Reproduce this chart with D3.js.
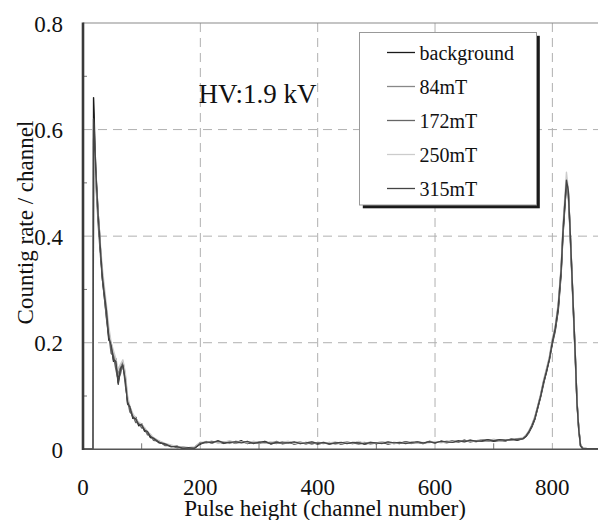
<!DOCTYPE html>
<html><head><meta charset="utf-8">
<script src="https://cdn.jsdelivr.net/npm/d3@7/dist/d3.min.js"></script>
<style>
html,body{margin:0;padding:0;background:#fff;}
svg{display:block;}
svg text{font-family:"Liberation Serif","Times New Roman",serif;}
</style></head>
<body>
<svg id="chart" width="598" height="520"></svg>
<script>
// ---------------- data ----------------
const seriesNames = ["background", "84mT", "172mT", "250mT", "315mT"];
const seriesColors = ["#1a1a1a", "#888888", "#666666", "#cccccc", "#444444"];

const xTicks = [0, 200, 400, 600, 800];
const xMinorTicks = [100, 300, 500, 700];
const yTicks = [0, 0.2, 0.4, 0.6, 0.8];
const yMinorTicks = [0.1, 0.3, 0.5, 0.7];
const yTickLabels = ["0", "0.2", "0.4", "0.6", "0.8"];

// channel numbers (three regions: low-energy tail, flat part, photo peak)
const channels = [
  0,10,17,18,19,20,21,22,24,26,28,30,33,36,40,44,48,52,56,60,64,68,72,76,80,85,90,95,100,105,110,115,120,130,140,150,160,170,180,190,
  200,210,220,230,240,250,260,270,280,290,300,310,320,330,340,350,360,370,380,390,400,410,420,430,440,450,460,470,480,490,500,510,520,530,540,550,560,570,580,590,600,610,620,630,640,650,660,670,680,690,700,710,720,730,740,
  750,755,760,765,770,775,780,785,790,795,800,805,810,815,818,821,824,827,830,833,836,839,842,845,848,852,860,870,880
];

const background = [
  0,0,0,0.66,0.63,0.58,0.55,0.52,0.48,0.44,0.41,0.37,0.32,0.29,0.25,0.205,0.2,0.165,0.17,0.125,0.155,0.155,0.135,0.085,0.08,0.058,0.06,0.044,0.048,0.034,0.032,0.022,0.021,0.012,0.01,0.005,0.006,0.002,0.003,0.002,
  0.01,0.014,0.012,0.015,0.011,0.014,0.012,0.016,0.011,0.013,0.012,0.015,0.01,0.013,0.011,0.014,0.01,0.012,0.011,0.013,0.01,0.012,0.011,0.013,0.01,0.012,0.011,0.014,0.01,0.012,0.011,0.013,0.01,0.012,0.011,0.014,0.012,0.013,0.011,0.014,0.012,0.015,0.013,0.016,0.014,0.017,0.014,0.016,0.015,0.018,0.015,0.017,0.016,0.019,0.017,
  0.02,0.024,0.032,0.042,0.056,0.078,0.1,0.125,0.145,0.17,0.2,0.225,0.26,0.33,0.4,0.45,0.5,0.49,0.42,0.34,0.26,0.18,0.09,0.04,0.008,0.002,0.001,0.001,0.001
];
const mT84 = [
  0,0,0,0.6,0.6,0.57,0.54,0.51,0.47,0.43,0.4,0.37,0.33,0.3,0.26,0.22,0.195,0.18,0.165,0.14,0.155,0.165,0.14,0.095,0.078,0.065,0.056,0.05,0.046,0.039,0.032,0.027,0.021,0.015,0.01,0.007,0.005,0.004,0.003,0.004,
  0.012,0.013,0.015,0.012,0.014,0.011,0.015,0.013,0.012,0.014,0.011,0.013,0.012,0.015,0.01,0.013,0.012,0.014,0.01,0.013,0.012,0.011,0.013,0.01,0.012,0.014,0.011,0.012,0.013,0.01,0.012,0.014,0.011,0.013,0.012,0.013,0.011,0.014,0.012,0.013,0.014,0.013,0.015,0.014,0.016,0.015,0.017,0.014,0.018,0.016,0.017,0.016,0.018,0.017,0.019,
  0.021,0.026,0.034,0.045,0.06,0.08,0.102,0.128,0.15,0.172,0.205,0.23,0.27,0.34,0.41,0.46,0.5,0.48,0.41,0.33,0.25,0.17,0.085,0.035,0.006,0.001,0.001,0.001,0.001
];
const mT172 = [
  0,0,0,0.58,0.6,0.56,0.53,0.5,0.46,0.42,0.39,0.36,0.32,0.29,0.245,0.215,0.18,0.175,0.15,0.13,0.142,0.162,0.122,0.092,0.07,0.064,0.05,0.05,0.04,0.04,0.027,0.027,0.017,0.015,0.007,0.007,0.003,0.004,0.002,0.003,
  0.013,0.012,0.014,0.013,0.012,0.015,0.011,0.014,0.013,0.012,0.014,0.012,0.013,0.011,0.014,0.012,0.013,0.011,0.013,0.01,0.013,0.012,0.01,0.012,0.011,0.013,0.012,0.01,0.012,0.013,0.011,0.012,0.013,0.011,0.012,0.014,0.012,0.013,0.011,0.015,0.013,0.014,0.012,0.015,0.014,0.016,0.015,0.016,0.017,0.015,0.018,0.017,0.016,0.019,0.018,
  0.02,0.025,0.031,0.043,0.057,0.077,0.098,0.122,0.148,0.168,0.198,0.222,0.265,0.335,0.405,0.455,0.495,0.485,0.415,0.335,0.255,0.175,0.088,0.038,0.007,0.001,0.001,0.001,0.001
];
const mT250 = [
  0,0,0,0.56,0.57,0.55,0.52,0.5,0.47,0.44,0.41,0.38,0.34,0.31,0.27,0.23,0.2,0.185,0.17,0.15,0.16,0.168,0.145,0.1,0.08,0.067,0.058,0.051,0.047,0.04,0.033,0.028,0.022,0.016,0.011,0.008,0.005,0.004,0.003,0.004,
  0.012,0.015,0.012,0.014,0.013,0.016,0.012,0.014,0.012,0.015,0.013,0.012,0.014,0.012,0.013,0.015,0.011,0.013,0.012,0.014,0.011,0.013,0.012,0.014,0.011,0.013,0.012,0.015,0.011,0.013,0.012,0.014,0.012,0.011,0.013,0.012,0.014,0.012,0.013,0.012,0.015,0.012,0.014,0.015,0.016,0.014,0.016,0.015,0.017,0.016,0.019,0.016,0.018,0.017,0.02,
  0.022,0.027,0.035,0.046,0.061,0.082,0.104,0.13,0.152,0.175,0.208,0.233,0.275,0.345,0.42,0.47,0.52,0.49,0.42,0.34,0.26,0.18,0.09,0.04,0.008,0.002,0.001,0.001,0.001
];
const mT315 = [
  0,0,0,0.62,0.61,0.57,0.545,0.515,0.475,0.435,0.405,0.37,0.325,0.295,0.26,0.21,0.195,0.168,0.165,0.122,0.152,0.158,0.13,0.088,0.079,0.06,0.057,0.046,0.046,0.036,0.033,0.024,0.021,0.013,0.01,0.005,0.005,0.002,0.003,0.002,
  0.011,0.014,0.012,0.016,0.012,0.013,0.014,0.012,0.015,0.011,0.013,0.014,0.011,0.013,0.012,0.012,0.014,0.011,0.012,0.014,0.011,0.013,0.01,0.012,0.013,0.011,0.013,0.012,0.01,0.013,0.012,0.011,0.014,0.012,0.013,0.011,0.013,0.014,0.012,0.014,0.012,0.015,0.014,0.013,0.016,0.014,0.017,0.015,0.016,0.018,0.016,0.018,0.017,0.018,0.019,
  0.02,0.025,0.033,0.044,0.058,0.079,0.1,0.126,0.147,0.17,0.202,0.228,0.268,0.338,0.408,0.458,0.505,0.487,0.418,0.338,0.258,0.178,0.087,0.037,0.007,0.001,0.001,0.001,0.001
];
const seriesValues = [background, mT84, mT172, mT250, mT315];

const annotation = "HV:1.9 kV";
const xTitle = "Pulse height (channel number)";
const yTitle = "Countig rate / channel";

// ---------------- drawing ----------------
const svg = d3.select("#chart");
const L = 83, T = 23, B = 449.3, R = 599.3;
const x = d3.scaleLinear().domain([0, 880]).range([L, R]);
const y = d3.scaleLinear().domain([0, 0.8]).range([B, T]);

// grid
const grid = svg.append("g").attr("stroke", "#b0b0b0").attr("stroke-width", 1).attr("stroke-dasharray", "9,6");
grid.selectAll("line.v").data(xTicks.filter(d => d > 0)).join("line")
  .attr("x1", d => x(d)).attr("x2", d => x(d)).attr("y1", T).attr("y2", B);
grid.selectAll("line.h").data(yTicks.filter(d => d > 0 && d < 0.8)).join("line")
  .attr("x1", L).attr("x2", R).attr("y1", d => y(d)).attr("y2", d => y(d));

// top border
svg.append("line").attr("x1", L).attr("x2", R).attr("y1", T).attr("y2", T)
  .attr("stroke", "#8a8a8a").attr("stroke-width", 1.2);

// minor ticks
svg.append("g").selectAll("line").data(yMinorTicks).join("line")
  .attr("x1", L).attr("x2", L + 4).attr("y1", d => y(d)).attr("y2", d => y(d))
  .attr("stroke", "#777").attr("stroke-width", 1);
svg.append("g").selectAll("line").data(xMinorTicks).join("line")
  .attr("x1", d => x(d)).attr("x2", d => x(d)).attr("y1", B).attr("y2", B - 6)
  .attr("stroke", "#777").attr("stroke-width", 1);

// series lines
const line = d3.line().x((d) => x(d[0])).y(d => y(d[1]));
const lg = svg.append("g").attr("fill", "none").attr("stroke-linejoin", "round");
seriesValues.forEach((vals, i) => {
  const pts = channels.map((c, k) => [c, vals[k]]);
  lg.append("path").datum(pts).attr("d", line)
    .attr("stroke", seriesColors[i]).attr("stroke-width", 1.4);
});

// axes lines
svg.append("line").attr("x1", L).attr("x2", R).attr("y1", B).attr("y2", B)
  .attr("stroke", "#555").attr("stroke-width", 1.6);
svg.append("line").attr("x1", L).attr("x2", L).attr("y1", T - 0.5).attr("y2", B + 0.8)
  .attr("stroke", "#3a3a3a").attr("stroke-width", 2.6);

// tick labels
svg.append("g").selectAll("text").data(yTicks).join("text")
  .attr("x", 63).attr("y", d => y(d) + 8.5).attr("text-anchor", "end")
  .attr("font-size", 23).attr("fill", "#111").text((d, i) => yTickLabels[i]);
svg.append("g").selectAll("text").data(xTicks).join("text")
  .attr("x", d => x(d)).attr("y", 495).attr("text-anchor", "middle")
  .attr("font-size", 23).attr("fill", "#111").text(d => d);

// titles
svg.append("text").attr("x", 325).attr("y", 516).attr("text-anchor", "middle")
  .attr("font-size", 23).attr("fill", "#111").text(xTitle);
svg.append("text").attr("transform", "translate(33,222.5) rotate(-90)").attr("text-anchor", "middle")
  .attr("font-size", 23).attr("fill", "#111").text(yTitle);

// annotation
svg.append("text").attr("x", 198.5).attr("y", 103.3).attr("font-size", 27).attr("fill", "#111").text(annotation);

// legend
const lgX = 359.5, lgY = 32.5, lgW = 177, lgH = 172.5;
svg.append("rect").attr("x", lgX + 3.3).attr("y", lgY + 3.3).attr("width", lgW).attr("height", lgH).attr("fill", "#1a1a1a");
svg.append("rect").attr("x", lgX).attr("y", lgY).attr("width", lgW).attr("height", lgH)
  .attr("fill", "#fff").attr("stroke", "#999").attr("stroke-width", 1);
const items = svg.append("g").selectAll("g").data(seriesNames).join("g")
  .attr("transform", (d, i) => `translate(0,${59.5 + i * 34})`);
items.append("line").attr("x1", 387).attr("x2", 415).attr("y1", -7).attr("y2", -7)
  .attr("stroke", (d, i) => seriesColors[i]).attr("stroke-width", 1.3);
items.append("text").attr("x", 419.5).attr("y", 0).attr("font-size", 20).attr("fill", "#111").text(d => d);
</script>
</body></html>
